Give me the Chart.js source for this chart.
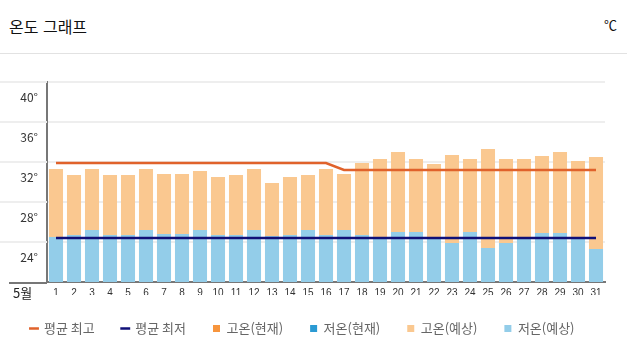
<!DOCTYPE html>
<html lang="ko">
<head>
<meta charset="utf-8">
<script src="https://cdn.jsdelivr.net/npm/chart.js@4.4.0/dist/chart.umd.min.js"></script>
<style>
  body { margin: 0; width: 627px; height: 352px; background: #fff; overflow: hidden; position: relative;
         font-family: "Noto Sans CJK KR", sans-serif; }
  #head { position: absolute; left: 0; top: 0; width: 627px; height: 53px; border-bottom: 1px solid #e2e2e2; }
  #title { position: absolute; left: 9px; top: 14px; font-size: 16px; color: #111; line-height: 24px; }
  #unit { position: absolute; right: 10px; top: 15px; font-size: 13px; color: #111; line-height: 20px; }
  #wrap { position: absolute; left: 0; top: 56px; width: 627px; height: 296px; }
</style>
</head>
<body>
<div id="head"><span id="title">온도 그래프</span><span id="unit">℃</span></div>
<div id="wrap"><canvas id="chart"></canvas></div>
<script>
const days = ['1','2','3','4','5','6','7','8','9','10','11','12','13','14','15','16',
              '17','18','19','20','21','22','23','24','25','26','27','28','29','30','31'];
const yTicks = [20, 24, 28, 32, 36, 40];

// 평균 최고 / 평균 최저
const avgHigh = [31.9,31.9,31.9,31.9,31.9,31.9,31.9,31.9,31.9,31.9,31.9,31.9,31.9,31.9,31.9,31.9,
                 31.2,31.2,31.2,31.2,31.2,31.2,31.2,31.2,31.2,31.2,31.2,31.2,31.2,31.2,31.2];
const avgLow = [24.4,24.4,24.4,24.4,24.4,24.4,24.4,24.4,24.4,24.4,24.4,24.4,24.4,24.4,24.4,24.4,
                24.4,24.4,24.4,24.4,24.4,24.4,24.4,24.4,24.4,24.4,24.4,24.4,24.4,24.4,24.4];

// 현재 (no observed days in this month)
const highNow = [];
const lowNow = [];

// 예상
const highForecast = [31.3,30.7,31.3,30.7,30.7,31.3,30.8,30.8,31.1,30.5,30.7,31.3,29.9,30.5,30.7,31.3,
                      30.8,31.9,32.3,33.0,32.3,31.8,32.7,32.3,33.3,32.3,32.3,32.6,33.0,32.1,32.5];
const lowForecast = [24.5,24.7,25.2,24.7,24.7,25.2,24.8,24.8,25.2,24.7,24.7,25.2,24.6,24.7,25.2,24.7,
                     25.2,24.7,24.5,25.0,25.0,24.4,23.9,25.0,23.4,23.9,24.5,24.9,24.9,24.5,23.3];

const FONT = '"Noto Sans CJK KR", sans-serif';

// extends grid lines / bottom axis to the left edge and writes the month label
const extras = {
  id: 'extras',
  beforeDatasetsDraw(chart) {
    const { ctx, chartArea, scales: { y } } = chart;
    ctx.save();
    ctx.strokeStyle = '#eeeeee';
    ctx.lineWidth = 2;
    y.ticks.forEach(t => {
      if (t.value <= y.min) return;
      const py = Math.round(y.getPixelForValue(t.value));
      ctx.beginPath();
      ctx.moveTo(0, py);
      ctx.lineTo(chartArea.left, py);
      ctx.stroke();
    });
    ctx.restore();
  },
  afterDraw(chart) {
    const { ctx, chartArea } = chart;
    ctx.save();
    ctx.strokeStyle = '#777';
    ctx.lineWidth = 2;
    ctx.beginPath();
    ctx.moveTo(9, chartArea.bottom + 1);
    ctx.lineTo(chartArea.left, chartArea.bottom + 1);
    ctx.stroke();
    ctx.fillStyle = '#222';
    ctx.font = '13px ' + FONT;
    ctx.textAlign = 'left';
    ctx.textBaseline = 'middle';
    ctx.fillText('5월', 13, chartArea.bottom + 11);
    ctx.restore();
  }
};

new Chart(document.getElementById('chart'), {
  data: {
    labels: days,
    datasets: [
      { type: 'line', label: '평균 최고', data: avgHigh, borderColor: '#e0622b', backgroundColor: '#e0622b',
        borderWidth: 2.5, pointRadius: 0, tension: 0, order: 0 },
      { type: 'line', label: '평균 최저', data: avgLow, borderColor: '#101078', backgroundColor: '#101078',
        borderWidth: 2.5, pointRadius: 0, tension: 0, order: 0 },
      { type: 'bar', label: '고온(현재)', data: highNow, backgroundColor: '#f7953d', grouped: false, order: 4 },
      { type: 'bar', label: '저온(현재)', data: lowNow, backgroundColor: '#2b9ad3', grouped: false, order: 3 },
      { type: 'bar', label: '고온(예상)', data: highForecast, backgroundColor: '#fac890', grouped: false, order: 2 },
      { type: 'bar', label: '저온(예상)', data: lowForecast, backgroundColor: '#93cde9', grouped: false, order: 1 }
    ]
  },
  options: {
    responsive: true,
    maintainAspectRatio: false,
    animation: false,
    layout: { padding: { top: 26, right: 22, bottom: 7, left: 0 } },
    datasets: { bar: { barPercentage: 0.78, categoryPercentage: 1 } },
    scales: {
      x: {
        afterFit: scale => { scale.height = scale.height - 9; },
        grid: { display: false, drawTicks: false },
        border: { display: true, color: '#777', width: 2 },
        ticks: { color: '#333', font: { size: 10, family: '"Liberation Sans", sans-serif' }, padding: 5,
                 maxRotation: 0, autoSkip: false }
      },
      y: {
        min: yTicks[0],
        max: yTicks[yTicks.length - 1],
        afterBuildTicks: scale => { scale.ticks = yTicks.map(v => ({ value: v })); },
        afterFit: scale => { scale.width = 47; },
        grid: { color: '#eeeeee', lineWidth: 2, drawTicks: false },
        border: { display: true, color: '#777', width: 2 },
        ticks: { color: '#333', font: { size: 12, family: FONT }, padding: 9, labelOffset: 15,
                 callback: v => v === yTicks[0] ? '' : v + '°' }
      }
    },
    plugins: {
      tooltip: { enabled: false },
      legend: {
        position: 'bottom',
        labels: {
          usePointStyle: true,
          boxWidth: 7,
          boxHeight: 7,
          padding: 27,
          color: '#666',
          font: { size: 13, family: FONT },
          sort: (a, b) => a.datasetIndex - b.datasetIndex,
          generateLabels: chart => Chart.defaults.plugins.legend.labels.generateLabels(chart).map(item => {
            const ds = chart.data.datasets[item.datasetIndex];
            item.pointStyle = ds.type === 'line' ? 'line' : 'rect';
            return item;
          })
        }
      }
    }
  },
  plugins: [extras]
});
</script>
</body>
</html>
